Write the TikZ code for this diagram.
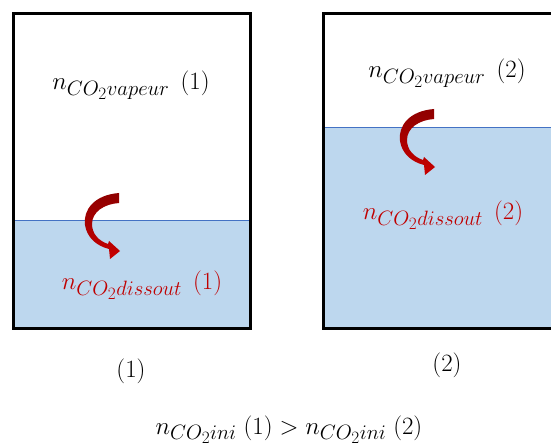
\documentclass[tikz,border=0pt]{standalone}
\DeclareMathSizes{27}{27}{21}{16}
\DeclareMathSizes{29}{29}{22}{17}
\definecolor{waterblue}{HTML}{BDD7EE}
\definecolor{lineblue}{HTML}{4472C4}
\definecolor{textred}{HTML}{C00000}
\definecolor{arrowdark}{HTML}{8E0000}
\definecolor{arrowlight}{HTML}{C80000}
\begin{document}
\begin{tikzpicture}[x=1pt,y=-1pt,
  water/.style={fill=waterblue,draw=lineblue,line width=1pt},
  vessel/.style={draw=black,line width=3pt},
  lbl/.style={font=\fontsize{27}{32}\selectfont,inner sep=0pt},
  biglbl/.style={font=\fontsize{29}{34}\selectfont,inner sep=0pt},
  redlbl/.style={lbl,text=textred},
  curlarrow/.pic={\shade[top color=arrowdark,bottom color=arrowlight]
      (-1,-58) .. controls (-26,-56) and (-37,-41) .. (-35,-26)
      .. controls (-33,-13) and (-23,-5) .. (-11,-2) -- (-10,8) -- (0,0) -- (-11,-10) -- (-12,-7)
      .. controls (-21,-10) and (-28,-17) .. (-28,-27)
      .. controls (-28,-39) and (-16,-47) .. (-1,-48) -- cycle;}]
\useasboundingbox (0,0) rectangle (551,443);
\clip (0,0) rectangle (551,443);
\fill[white] (0,0) rectangle (551,443);
% vessel 1
\draw[water] (14,221) rectangle (251,327);
\draw[vessel] (13.5,13.5) rectangle (250.5,328.5);
% vessel 2
\draw[water] (324,128) rectangle (560,327);
\draw[vessel] (323.5,13.5) rectangle (570,328.5);
% arrows
\pic at (120,251) {curlarrow};
\pic at (435,167) {curlarrow};
% labels
\node[lbl] (v1) at (131,85) {$n_{CO_2vapeur}\;\,(1)$};
\node[redlbl] (d1) at (142,285) {$n_{CO_2dissout}\;\,(1)$};
\node[lbl] (v2) at (447,73) {$n_{CO_2vapeur}\;\,(2)$};
\node[redlbl] (d2) at (443,215) {$n_{CO_2dissout}\;\,(2)$};
\node[biglbl] (c1) at (131,371) {$(1)$};
\node[biglbl] (c2) at (447,365) {$(2)$};
\node[lbl,anchor=base] (eq) at (289,434) {$n_{CO_2ini}\;(1) > n_{CO_2ini}\;(2)$};
\end{tikzpicture}
\end{document}
